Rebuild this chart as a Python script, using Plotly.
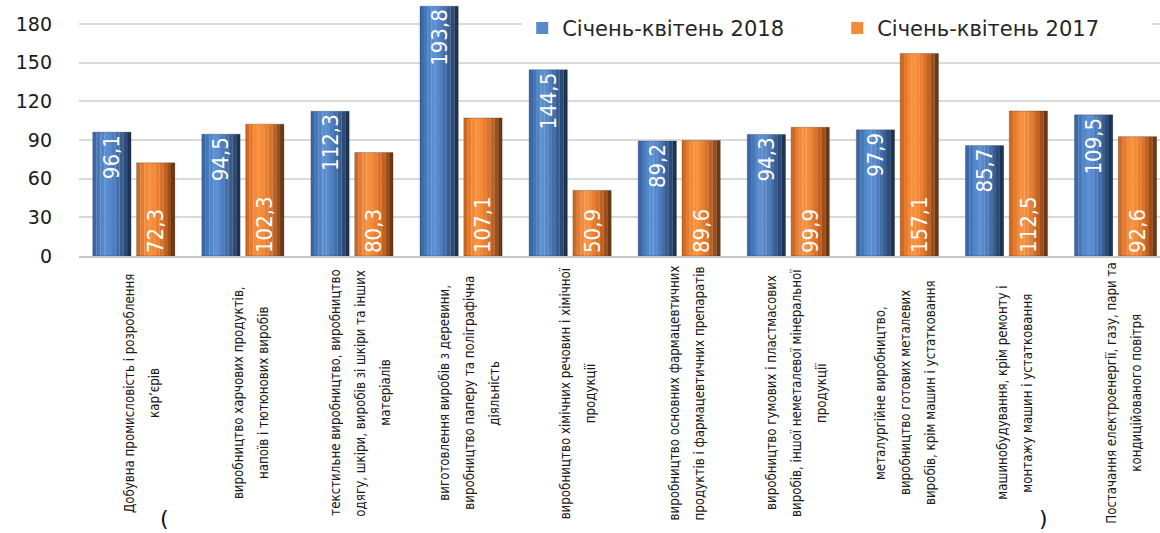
import plotly.graph_objects as go

categories = [
    ["Добувна промисловість і розроблення", "кар’єрів"],
    ["виробництво харчових продуктів,", "напоїв і тютюнових виробів"],
    ["текстильне виробництво, виробництво", "одягу, шкіри, виробів зі шкіри та інших", "матеріалів"],
    ["виготовлення виробів з деревини,", "виробництво паперу та поліграфічна", "діяльність"],
    ["виробництво хімічних речовин і хімічної", "продукції"],
    ["виробництво основних фармацевтичних", "продуктів і фармацевтичних препаратів"],
    ["виробництво гумових і пластмасових", "виробів, іншої неметалевої мінеральної", "продукції"],
    ["металургійне виробництво,", "виробництво готових металевих", "виробів, крім машин і устатковання"],
    ["машинобудування, крім ремонту і", "монтажу машин і устатковання"],
    ["Постачання електроенергії, газу, пари та", "кондиційованого повітря"],
]
values_2018 = [96.1, 94.5, 112.3, 193.8, 144.5, 89.2, 94.3, 97.9, 85.7, 109.5]
values_2017 = [72.3, 102.3, 80.3, 107.1, 50.9, 89.6, 99.9, 157.1, 112.5, 92.6]
series_names = ["Січень-квітень 2018", "Січень-квітень 2017"]
y_ticks = [0, 30, 60, 90, 120, 150, 180]

NARROW = "Liberation Sans Narrow, Arial Narrow, DejaVu Sans Condensed, sans-serif"

blue_grad = ["#3a68a6", "#4677b9", "#5186c9", "#5a8fd2", "#5889cc", "#4f7dbd",
             "#4470aa", "#385f93", "#2c4b76", "#1e3353"]
orange_grad = ["#cf6a24", "#e47b2f", "#f28a3a", "#f7923f", "#f38b39", "#e97f31",
               "#d9722a", "#c06222", "#9c4f1b", "#6e3812"]

x = list(range(len(categories)))
bar_w = 0.35
offsets = [-0.374, 0.028]
N = len(blue_grad)

fig = go.Figure()
for s, (vals, grad, name, anchor) in enumerate(zip(
        [values_2018, values_2017], [blue_grad, orange_grad], series_names, ["end", "start"])):
    sw = bar_w / N
    for i, col in enumerate(grad):
        fig.add_trace(go.Bar(
            x=x, y=vals, width=[sw * 1.04] * len(x), offset=[offsets[s] + i * sw] * len(x),
            marker=dict(color=col, line=dict(width=0)),
            name=name, showlegend=(i == 4), legendgroup=name,
            hoverinfo="skip",
        ))
    fig.add_trace(go.Bar(
        x=x, y=vals, width=[bar_w] * len(x), offset=[offsets[s]] * len(x),
        marker=dict(color="rgba(0,0,0,0)", line=dict(width=0.8, color="rgba(40,40,40,0.35)")),
        text=[f"{v:.1f}".replace(".", ",") for v in vals],
        textposition="inside", insidetextanchor=anchor, textangle=-90,
        insidetextfont=dict(family=NARROW, size=22, color="white"),
        showlegend=False, legendgroup=name, name=name,
    ))

annotations = []
for ci, lines in enumerate(categories):
    n = len(lines)
    for k, line in enumerate(lines):
        annotations.append(dict(
            x=ci, xref="x", y=0, yref="paper", yshift=-137,
            xshift=(k - (n - 1) / 2) * 25 + 8,
            text=line, showarrow=False, textangle=-90,
            xanchor="center", yanchor="middle",
            font=dict(family=NARROW, size=13.2, color="#1a1a1a"),
        ))
# partial bracket strokes at the bottom edge
annotations.append(dict(x=(158 - 79) / 1081, y=(256 - 533) / 256, xref="paper", yref="paper",
                        text="(", showarrow=False, font=dict(family="DejaVu Sans", size=22, color="#111")))
annotations.append(dict(x=(1050 - 79) / 1081, y=(256 - 533) / 256, xref="paper", yref="paper",
                        text=")", showarrow=False, font=dict(family="DejaVu Sans", size=22, color="#111")))

fig.update_layout(
    width=1160, height=533,
    margin=dict(l=79, r=0, t=0, b=277),
    paper_bgcolor="white", plot_bgcolor="white",
    barmode="overlay",
    annotations=annotations,
    legend=dict(orientation="h", x=0.41, y=0.969, xanchor="left", yanchor="top",
                bgcolor="white", font=dict(family="DejaVu Sans", size=21, color="#262626"),
                entrywidth=270, itemwidth=30, traceorder="normal"),
    xaxis=dict(range=[-0.5, 9.41], showticklabels=False, showgrid=False, zeroline=False,
               showline=True, linecolor="#c8c8c8", linewidth=2, ticks=""),
    yaxis=dict(range=[0, 198.6], tickvals=y_ticks, showgrid=True, gridcolor="#d9d9d9", gridwidth=1.5,
               zeroline=False, showline=False, ticks="", ticklabelstandoff=26,
               tickfont=dict(family="DejaVu Sans", size=19, color="#1a1a1a")),
    showlegend=True,
)

fig.write_html("out.html", config={"displayModeBar": False},
               post_script="document.body.style.margin='0';document.body.style.overflow='hidden';")
